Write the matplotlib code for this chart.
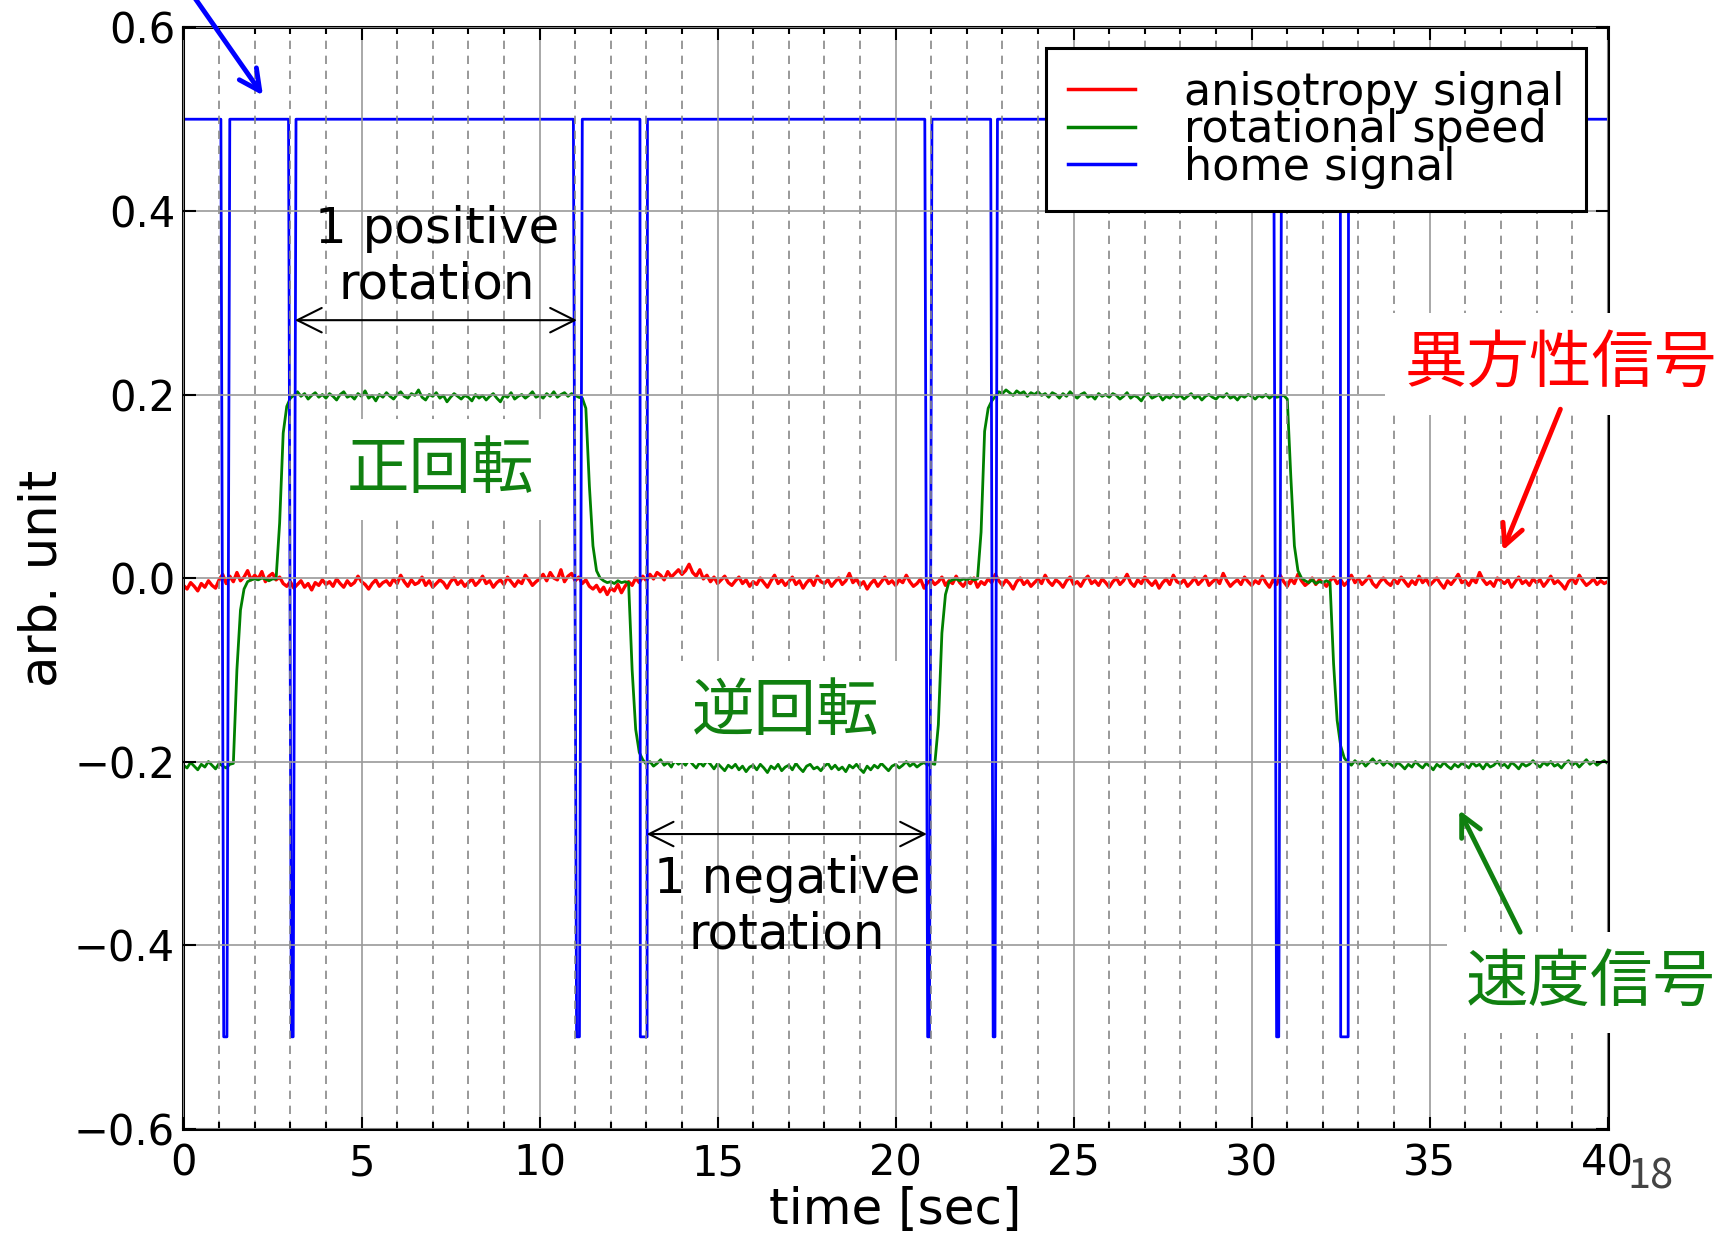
import numpy as np
import matplotlib
matplotlib.use("Agg")
import matplotlib.pyplot as plt
from matplotlib.ticker import MultipleLocator

plt.rcParams['font.family'] = ['DejaVu Sans', 'Noto Sans CJK JP']

# ---------------------------------------------------------
# Data read off the scope trace (sampled every 0.1 s, 0 .. 40 s)
# values in units of 1e-3 arb. unit
# ---------------------------------------------------------
t_sample = np.round(np.arange(401) * 0.1, 1)

aniso_milli = [
    -8, -12, -5, -9, -14, -6, -10, -3, -8, -11, -2, 4, -6, 2, -4, 6, -3, 1, 8, -2,
    3, -1, 7, -4, 2, 5, -2, 1, -6, -9, -4, -11, -7, -3, -10, -6, -13, -5, -8, -2,
    -7, -4, -9, -1, -6, -10, -3, -8, -5, 2, -4, -7, -12, -6, -2, -9, -5, -3, -8, -1,
    -6, 3, -4, -9, -2, -7, -5, 1, -8, -3, -10, -6, -2, -5, -11, -4, 0, -7, -3, -9,
    -5, -1, -8, -4, 2, -6, -3, -10, -5, -2, -7, 1, -4, -9, -3, -6, 3, -2, -8, -4,
    -1, 4, -3, 6, 0, -2, 9, -4, 2, 5, -3, 1, -6, -2, -9, -12, -8, -15, -10, -18,
    -11, -14, -7, -16, -9, -4, -8, 0, -5, 2, -3, 4, -1, 6, 3, -2, 7, 1, 5, 9,
    4, 8, 15, 6, 2, 9, -1, 3, -4, 1, -6, -2, 2, -5, -8, -3, 1, -6, -2, -9,
    -4, -7, 0, -5, -10, -3, 3, -6, -2, -8, -4, 1, -7, -3, -11, -5, -1, -8, 2, -4,
    -6, -2, -9, -4, 0, -7, -3, 5, -5, -1, -8, -4, -12, -6, -2, -9, -4, 1, -6, -3,
    -8, -2, -5, 3, -4, -9, -6, -1, -11, -5, -2, -7, -4, 1, -8, -3, -6, 2, -5, -9,
    -3, -6, 0, -10, -4, -7, -1, -5, 4, -3, -8, -2, -6, -12, -4, 0, -7, -3, -9, -5,
    -1, -6, 3, -4, -8, -2, -5, -10, -3, 1, -7, -4, -9, -2, 2, -6, -3, -8, -1, -5,
    -10, -4, 0, -7, -3, 4, -5, -9, -2, -6, 1, -4, -8, -3, -11, -5, -1, -7, 3, -4,
    -6, -2, -9, -5, 0, -7, -3, 2, -8, -4, -1, -6, 5, -3, -9, -5, -2, -7, 1, -4,
    -8, -3, -6, 2, -5, -10, -2, -7, 3, -4, -9, -1, -6, 4, -3, -8, -5, 0, -7, -2,
    -5, -9, -3, 1, -6, -2, -8, -4, 3, -5, -1, -7, -3, 2, -6, -10, -4, 0, -5, -8,
    -2, -6, 1, -4, -9, -3, -7, 2, -5, -1, -8, -4, 0, -6, -11, -3, -7, -2, 4, -5,
    -3, -8, -1, -5, 6, -2, -7, -4, -9, 0, -3, -6, -2, -10, -4, 1, -6, -3, -8, -1,
    -5, -2, -9, -4, 2, -6, -3, -7, -12, -4, -1, -6, 3, -3, -8, -5, -1, -7, -3, -6,
    -4,
]

speed_milli = [
    -204, -207, -201, -205, -209, -203, -206, -200, -204, -208, -202, -205, -207, -203, -202, -100, -35, -12, -4, -2,
    -1, -2, 0, -1, -3, -1, -1, 60, 158, 187, 196, 199, 203, 198, 201, 195, 199, 202, 197, 200,
    196, 201, 198, 194, 200, 203, 197, 199, 195, 201, 198, 204, 196, 199, 193, 200, 197, 202, 198, 195,
    200, 203, 198, 196, 201, 199, 205, 197, 194, 200, 198, 202, 196, 199, 192, 197, 201, 198, 195, 199,
    197, 193, 200, 196, 199, 194, 198, 201, 196, 192, 199, 197, 202, 195, 198, 200, 196, 199, 203, 197,
    199, 196, 201, 198, 203, 197, 200, 202, 198, 201, 199, 197, 196, 185, 100, 35, 8, 0, -3, -5,
    -4, -6, -3, -5, -4, -5, -100, -165, -190, -198, -203, -200, -205, -202, -198, -204, -201, -206, -199, -203,
    -200, -204, -198, -203, -207, -201, -205, -199, -203, -208, -202, -206, -210, -204, -207, -203, -209, -205, -211, -206,
    -204, -209, -203, -207, -212, -205, -208, -203, -210, -206, -204, -209, -202, -207, -211, -205, -203, -208, -206, -210,
    -205, -202, -208, -204, -209, -206, -211, -204, -207, -203, -208, -212, -205, -209, -204, -207, -202, -206, -210, -205,
    -203, -207, -204, -200, -205, -202, -206, -203, -201, -204, -202, -203, -160, -60, -18, -4, -2, -1, -3, -1,
    -2, 0, -2, -1, 50, 160, 185, 193, 198, 203, 201, 205, 202, 199, 204, 201, 203, 198, 202, 200,
    203, 199, 201, 197, 202, 200, 196, 201, 198, 203, 199, 196, 200, 202, 197, 199, 195, 201, 198, 200,
    197, 201, 199, 195, 198, 202, 196, 199, 197, 193, 199, 201, 196, 198, 200, 194, 198, 196, 200, 197,
    199, 195, 198, 201, 196, 199, 194, 198, 200, 197, 195, 199, 197, 201, 196, 198, 194, 199, 197, 200,
    198, 195, 199, 197, 200, 196, 199, 197, 198, 199, 195, 110, 35, 8, 0, -3, -5, -2, -6, -4,
    -5, -3, -5, -93, -155, -183, -196, -201, -204, -199, -203, -200, -205, -201, -197, -202, -199, -204, -200, -203,
    -206, -201, -204, -208, -203, -206, -200, -204, -207, -202, -205, -209, -203, -206, -201, -205, -208, -203, -206, -202,
    -204, -207, -201, -205, -203, -208, -202, -206, -204, -200, -205, -203, -207, -201, -204, -208, -202, -205, -203, -199,
    -203, -206, -201, -204, -200, -205, -203, -207, -202, -199, -204, -201, -206, -202, -198, -203, -200, -204, -201, -199,
    -202,
]

# home signal: breakpoints of the pulse train (sec, arb. unit)
home_t = [0.0,
          1.05, 1.13, 1.22, 1.30,
          2.95, 3.03, 3.08, 3.16,
          10.95, 11.04, 11.12, 11.20,
          12.82, 12.83, 13.02, 13.03,
          20.82, 20.90, 20.95, 21.02,
          22.67, 22.74, 22.79, 22.86,
          30.62, 30.70, 30.76, 30.84,
          32.49, 32.50, 32.71, 32.72,
          40.0]
home_v = [0.5,
          0.5, -0.5, -0.5, 0.5,
          0.5, -0.5, -0.5, 0.5,
          0.5, -0.5, -0.5, 0.5,
          0.5, -0.5, -0.5, 0.5,
          0.5, -0.5, -0.5, 0.5,
          0.5, -0.5, -0.5, 0.5,
          0.5, -0.5, -0.5, 0.5,
          0.5, -0.5, -0.5, 0.5,
          0.5]

aniso = np.array(aniso_milli) / 1000.0
speed = np.array(speed_milli) / 1000.0

# ---------------------------------------------------------
# Figure
# ---------------------------------------------------------
fig = plt.figure(figsize=(17.23, 12.42), dpi=100)
ax = fig.add_axes([0.1065, 0.0913, 0.8266, 0.8866])

ax.plot(t_sample, aniso, color='#ff0000', lw=2.4, label='anisotropy signal')
ax.plot(t_sample, speed, color='#008000', lw=2.0, label='rotational speed')
ax.plot(home_t, home_v, color='#0000ff', lw=2.0, label='home signal')

ax.set_xlim(0, 40)
ax.set_ylim(-0.6, 0.6)
ax.set_yticks(np.arange(-0.6, 0.61, 0.2))
ax.xaxis.set_major_locator(MultipleLocator(5))
ax.xaxis.set_minor_locator(MultipleLocator(1))

ax.set_axisbelow(False)
ax.grid(which='major', color='#999999', lw=1.2, ls='-')
ax.xaxis.grid(which='minor', color='#888888', lw=1.2, ls=(0, (5, 4)))

ax.tick_params(which='both', direction='in', top=True, right=True, width=1.5, labelsize=30)
ax.tick_params(which='major', length=9)
ax.tick_params(which='minor', length=5)
ax.tick_params(axis='x', pad=10)
ax.tick_params(axis='y', pad=6)
for sp in ax.spines.values():
    sp.set_linewidth(2.2)

ax.set_xlabel('time [sec]', fontsize=36, labelpad=1)
ax.set_ylabel('arb. unit', fontsize=37, labelpad=5)

leg = ax.legend(loc='upper right', bbox_to_anchor=(0.985, 0.981), fontsize=32,
                fancybox=False, edgecolor='black', framealpha=1, borderaxespad=0,
                labelspacing=-0.12, handlelength=1.5, handletextpad=1.1, borderpad=0.5)
leg.get_frame().set_linewidth(2.2)
for h in leg.get_lines():
    h.set_linewidth(2.5)

# rotation annotations
arrow2 = dict(arrowstyle='<->,head_length=0.8,head_width=0.4', color='black', lw=1.5,
              shrinkA=0, shrinkB=0, mutation_scale=22)
ax.annotate('', xy=(3.13, 0.281), xytext=(11.05, 0.281), arrowprops=arrow2)
ax.annotate('', xy=(13.01, -0.279), xytext=(20.88, -0.279), arrowprops=arrow2)
ax.text(7.12, 0.35, '1 positive\nrotation', fontsize=36, ha='center', va='center')
ax.text(16.95, -0.358, '1 negative\nrotation', fontsize=36, ha='center', va='center')

jp = 'Noto Sans CJK JP'
wbox = dict(facecolor='white', edgecolor='none', boxstyle='square,pad=0.3')
ax.text(7.23, 0.118, '正回転', color='#108010', fontsize=45, family=jp,
        ha='center', va='center', bbox=wbox)
ax.text(16.92, -0.146, '逆回転', color='#108010', fontsize=45, family=jp,
        ha='center', va='center', bbox=wbox)
ax.text(38.67, 0.233, '異方性信号', color='#ff0000', fontsize=45, family=jp,
        ha='center', va='center', bbox=wbox, clip_on=False)
ax.text(39.51, -0.441, '速度信号', color='#108010', fontsize=45, family=jp,
        ha='center', va='center', bbox=wbox, clip_on=False)

def pointer(head, tail, color):
    ax.annotate('', xy=head, xytext=tail, annotation_clip=False,
                arrowprops=dict(arrowstyle='->,head_length=0.5,head_width=0.25', color=color,
                                lw=3.5, shrinkA=0, shrinkB=0, mutation_scale=30))

pointer((37.05, 0.03), (38.67, 0.184), '#ff0000')
pointer((35.83, -0.253), (37.54, -0.386), '#108010')
pointer((2.23, 0.526), (-0.04, 0.652), '#0000ff')

fig.text(1650 / 1723, 1 - 1177 / 1242, '18', fontsize=30, color='#444444',
         family=jp, ha='center', va='center')

fig.savefig('out.png', dpi=100)
